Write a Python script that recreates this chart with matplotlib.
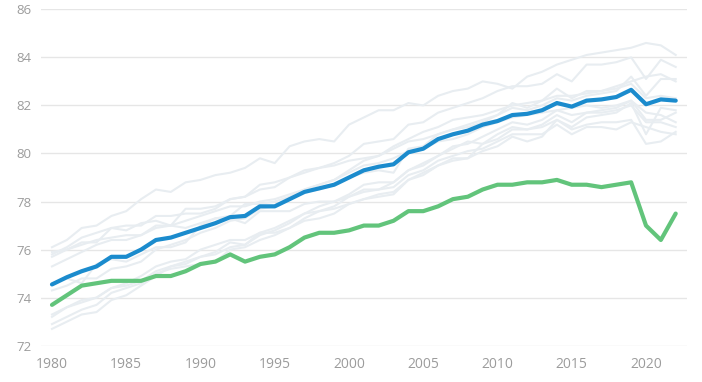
import matplotlib
matplotlib.use("Agg")
import matplotlib.pyplot as plt

years = list(range(1980, 2023))

us = [73.7, 74.1, 74.5, 74.6, 74.7, 74.7, 74.7, 74.9, 74.9, 75.1,
      75.4, 75.5, 75.8, 75.5, 75.7, 75.8, 76.1, 76.5, 76.7, 76.7,
      76.8, 77.0, 77.0, 77.2, 77.6, 77.6, 77.8, 78.1, 78.2, 78.5,
      78.7, 78.7, 78.8, 78.8, 78.9, 78.7, 78.7, 78.6, 78.7, 78.8,
      77.0, 76.4, 77.5]

comparable_avg = [74.55, 74.85, 75.1, 75.3, 75.7, 75.7, 76.0, 76.4, 76.5, 76.7,
                  76.9, 77.1, 77.35, 77.4, 77.8, 77.8, 78.1, 78.4, 78.55, 78.7,
                  79.0, 79.3, 79.45, 79.55, 80.05, 80.2, 80.6, 80.8, 80.95, 81.2,
                  81.35, 81.6, 81.65, 81.8, 82.1, 81.95, 82.2, 82.25, 82.35, 82.65,
                  82.05, 82.25, 82.2]

japan = [76.1, 76.4, 76.9, 77.0, 77.4, 77.6, 78.1, 78.5, 78.4, 78.8,
         78.9, 79.1, 79.2, 79.4, 79.8, 79.6, 80.3, 80.5, 80.6, 80.5,
         81.2, 81.5, 81.8, 81.8, 82.1, 82.0, 82.4, 82.6, 82.7, 83.0,
         82.9, 82.7, 83.2, 83.4, 83.7, 83.9, 84.1, 84.2, 84.3, 84.4,
         84.6, 84.5, 84.1]
switzerland = [75.7, 76.0, 76.3, 76.3, 76.9, 77.0, 77.0, 77.4, 77.4, 77.5,
               77.5, 77.7, 78.1, 78.2, 78.5, 78.6, 79.0, 79.2, 79.4, 79.6,
               79.9, 80.4, 80.5, 80.6, 81.2, 81.3, 81.7, 81.9, 82.1, 82.3,
               82.6, 82.8, 82.8, 82.9, 83.3, 83.0, 83.7, 83.7, 83.8, 84.0,
               83.1, 83.9, 83.6]
australia = [74.6, 74.8, 74.6, 75.4, 75.6, 75.5, 75.8, 76.1, 76.1, 76.3,
             77.0, 77.3, 77.4, 77.9, 77.9, 78.0, 78.2, 78.5, 78.7, 78.9,
             79.3, 79.7, 79.9, 80.3, 80.6, 80.9, 81.1, 81.4, 81.5, 81.6,
             81.8, 82.0, 82.1, 82.2, 82.4, 82.4, 82.5, 82.6, 82.8, 83.0,
             83.2, 83.3, 83.0]
sweden = [75.8, 76.1, 76.5, 76.7, 76.9, 76.8, 77.1, 77.2, 77.0, 77.7,
          77.7, 77.8, 78.1, 78.2, 78.7, 78.8, 79.0, 79.3, 79.4, 79.5,
          79.7, 79.8, 79.9, 80.2, 80.5, 80.6, 80.8, 81.0, 81.2, 81.4,
          81.6, 81.9, 81.8, 82.0, 82.3, 82.2, 82.4, 82.5, 82.6, 83.2,
          82.4, 83.1, 83.1]
france = [74.3, 74.5, 74.8, 74.8, 75.2, 75.3, 75.5, 76.0, 76.2, 76.4,
          76.7, 76.9, 77.2, 77.3, 77.7, 77.8, 78.1, 78.4, 78.5, 78.7,
          79.0, 79.2, 79.3, 79.2, 80.2, 80.3, 80.8, 81.0, 81.1, 81.3,
          81.6, 82.1, 81.9, 82.2, 82.7, 82.3, 82.6, 82.6, 82.7, 82.9,
          82.3, 82.4, 82.3]
canada = [75.3, 75.6, 75.9, 76.2, 76.4, 76.4, 76.6, 76.9, 77.0, 77.2,
          77.4, 77.6, 77.8, 77.8, 78.0, 78.1, 78.3, 78.5, 78.7, 78.9,
          79.2, 79.5, 79.6, 79.8, 80.1, 80.2, 80.5, 80.6, 80.8, 81.1,
          81.3, 81.5, 81.6, 81.7, 81.8, 81.9, 82.0, 81.9, 82.0, 82.2,
          81.7, 81.6, 81.3]
netherlands = [75.9, 76.0, 76.2, 76.4, 76.5, 76.6, 76.6, 77.0, 77.0, 76.9,
               77.1, 77.3, 77.3, 77.1, 77.6, 77.6, 77.6, 77.9, 78.0, 78.0,
               78.2, 78.4, 78.5, 78.8, 79.3, 79.6, 79.9, 80.3, 80.4, 80.7,
               81.0, 81.3, 81.2, 81.4, 81.8, 81.6, 81.7, 81.8, 81.9, 82.2,
               81.4, 81.4, 81.7]
austria = [72.7, 73.0, 73.3, 73.4, 73.9, 74.1, 74.5, 74.9, 75.3, 75.5,
           75.7, 75.8, 76.1, 76.2, 76.6, 76.8, 77.1, 77.5, 77.8, 78.0,
           78.3, 78.7, 78.8, 78.8, 79.3, 79.5, 79.9, 80.2, 80.5, 80.4,
           80.8, 81.1, 81.0, 81.2, 81.6, 81.3, 81.7, 81.7, 81.8, 82.0,
           81.3, 81.3, 81.1]
belgium = [73.3, 73.6, 73.9, 74.0, 74.4, 74.6, 74.9, 75.3, 75.5, 75.6,
           76.0, 76.2, 76.4, 76.4, 76.7, 76.9, 77.2, 77.5, 77.6, 77.7,
           77.9, 78.1, 78.2, 78.3, 78.9, 79.1, 79.5, 79.8, 79.8, 80.1,
           80.3, 80.7, 80.5, 80.7, 81.4, 81.1, 81.5, 81.6, 81.7, 82.1,
           80.8, 81.9, 81.8]
germany = [72.9, 73.2, 73.5, 73.7, 74.2, 74.4, 74.6, 75.0, 75.2, 75.3,
           75.4, 75.5, 76.0, 76.1, 76.4, 76.6, 76.9, 77.3, 77.6, 77.8,
           78.2, 78.5, 78.5, 78.6, 79.1, 79.3, 79.7, 79.9, 80.1, 80.2,
           80.5, 80.8, 80.8, 80.8, 81.2, 80.8, 81.1, 81.1, 81.0, 81.3,
           81.1, 80.9, 80.8]
uk = [73.2, 73.6, 73.8, 74.0, 74.4, 74.5, 74.7, 75.1, 75.3, 75.4,
      75.7, 75.9, 76.3, 76.2, 76.7, 76.7, 76.9, 77.2, 77.3, 77.5,
      77.9, 78.1, 78.3, 78.4, 78.9, 79.2, 79.5, 79.7, 79.8, 80.4,
      80.6, 81.0, 81.0, 81.1, 81.4, 81.0, 81.2, 81.3, 81.3, 81.4,
      80.4, 80.5, 80.9]

countries = [japan, switzerland, australia, sweden, france, canada,
             netherlands, austria, belgium, germany, uk]

y_ticks = [72, 74, 76, 78, 80, 82, 84, 86]
x_ticks = [1980, 1985, 1990, 1995, 2000, 2005, 2010, 2015, 2020]

plt.rcParams['font.family'] = ['Open Sans', 'DejaVu Sans']

fig = plt.figure(figsize=(7.02, 3.82), dpi=100)
ax = fig.add_axes([0.0584, 0.0950, 0.9198, 0.8806])

for c in countries:
    ax.plot(years, c, color='#e8edf1', linewidth=1.5, solid_joinstyle='round', zorder=2)

ax.plot(years, comparable_avg, color='#1b8bcd', linewidth=3.0,
        solid_joinstyle='round', solid_capstyle='round', zorder=4)
ax.plot(years, us, color='#62c47b', linewidth=3.0,
        solid_joinstyle='round', solid_capstyle='round', zorder=4)

ax.set_xlim(1979.26, 2022.74)
ax.set_ylim(72, 86)
ax.set_yticks(y_ticks)
ax.set_xticks(x_ticks)
ax.set_yticklabels([str(v) for v in y_ticks])
ax.set_xticklabels([str(v) for v in x_ticks])
ax.grid(axis='y', color='#e6e6e6', linewidth=1.0, zorder=0)
ax.set_axisbelow(True)
for s in ax.spines.values():
    s.set_visible(False)
ax.tick_params(axis='both', length=0, colors='#9c9c9c')
ax.tick_params(axis='y', pad=7, labelsize=9.5)
ax.tick_params(axis='x', pad=8, labelsize=10)

fig.savefig('out.png', dpi=100)
